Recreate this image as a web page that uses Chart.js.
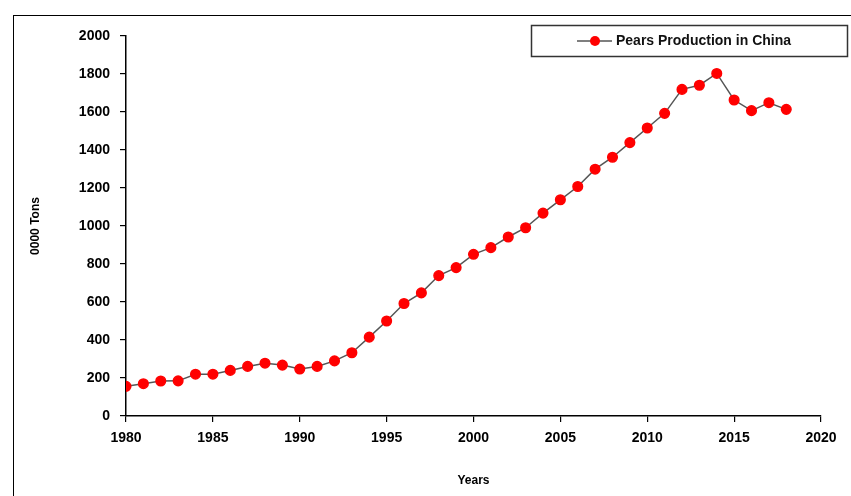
<!DOCTYPE html>
<html>
<head>
<meta charset="utf-8">
<script src="https://cdn.jsdelivr.net/npm/chart.js@4.4.1/dist/chart.umd.min.js"></script>
<style>
  body { margin: 0; background: #fff; }
  #wrap { position: relative; width: 851px; height: 496px; }
  #frame { position: absolute; left: 13px; top: 15px; right: 0; bottom: 0;
           border-left: 1.5px solid #000; border-top: 1.5px solid #000; pointer-events: none; }
</style>
</head>
<body>
<div id="wrap">
  <canvas id="chart" width="851" height="496"></canvas>
  <div id="frame"></div>
</div>
<script>
// data (0000 tons)
var years = [1980, 1981, 1982, 1983, 1984, 1985, 1986, 1987, 1988, 1989,
             1990, 1991, 1992, 1993, 1994, 1995, 1996, 1997, 1998, 1999,
             2000, 2001, 2002, 2003, 2004, 2005, 2006, 2007, 2008, 2009,
             2010, 2011, 2012, 2013, 2014, 2015, 2016, 2017, 2018];
var production = [156, 170, 184, 185, 220, 220, 240, 261, 278, 268,
                  247, 261, 290, 333, 415, 500, 592, 648, 739, 781,
                  851, 886, 942, 991, 1068, 1138, 1208, 1299, 1362, 1439,
                  1516, 1593, 1719, 1741, 1803, 1663, 1607, 1649, 1614];
var seriesName = 'Pears Production in China';
var xTicks = [1980, 1985, 1990, 1995, 2000, 2005, 2010, 2015, 2020];
var yTicks = [0, 200, 400, 600, 800, 1000, 1200, 1400, 1600, 1800, 2000];

var points = years.map(function (y, i) { return { x: y, y: production[i] }; });

// legend box drawn by hand: line + dot + bold label in a framed box
var boxLegend = {
  id: 'boxLegend',
  afterDraw: function (chart) {
    var ctx = chart.ctx;
    var ds = chart.data.datasets[0];
    ctx.save();
    ctx.strokeStyle = '#333';
    ctx.lineWidth = 1.5;
    ctx.strokeRect(531.5, 25.5, 316, 31);
    ctx.strokeStyle = ds.borderColor;
    ctx.lineWidth = 1.5;
    ctx.beginPath();
    ctx.moveTo(577, 41);
    ctx.lineTo(612, 41);
    ctx.stroke();
    ctx.fillStyle = ds.pointBackgroundColor;
    ctx.beginPath();
    ctx.arc(595, 41, 5, 0, Math.PI * 2);
    ctx.fill();
    ctx.fillStyle = '#111';
    ctx.font = 'bold 14px "Liberation Sans", Arial, sans-serif';
    ctx.textBaseline = 'middle';
    ctx.fillText(ds.label, 616, 41);
    ctx.restore();
  }
};

var tickFont = { family: '"Liberation Sans", Arial, sans-serif', size: 14, weight: 'bold' };
var titleFont = { family: '"Liberation Sans", Arial, sans-serif', size: 12, weight: 'bold' };

new Chart(document.getElementById('chart'), {
  type: 'line',
  data: {
    datasets: [{
      label: seriesName,
      data: points,
      borderColor: '#555',
      borderWidth: 1.5,
      pointBackgroundColor: '#ff0000',
      pointBorderColor: '#ff0000',
      pointRadius: 4.8,
      tension: 0
    }]
  },
  options: {
    responsive: false,
    animation: false,
    layout: { padding: { top: 36, right: 30, left: 0, bottom: 0 } },
    plugins: { legend: { display: false }, tooltip: { enabled: false } },
    scales: {
      x: {
        type: 'linear',
        min: 1980, max: 2020,
        afterBuildTicks: function (s) { s.ticks = xTicks.map(function (v) { return { value: v }; }); },
        afterFit: function (s) { s.height = 80; },
        ticks: { color: '#000', font: tickFont, padding: 8, maxRotation: 0,
                 callback: function (v) { return String(v); } },
        grid: { drawOnChartArea: false, tickLength: 6, color: '#000', lineWidth: 1.2 },
        border: { color: '#000', width: 1.5 },
        title: { display: true, text: 'Years', color: '#000', font: titleFont, padding: { top: 30, bottom: 8 } }
      },
      y: {
        min: 0, max: 2000,
        afterBuildTicks: function (s) { s.ticks = yTicks.map(function (v) { return { value: v }; }); },
        afterFit: function (s) { s.width = 126; },
        ticks: { color: '#000', font: tickFont, padding: 10,
                 callback: function (v) { return String(v); } },
        grid: { drawOnChartArea: false, tickLength: 6, color: '#000', lineWidth: 1.2 },
        border: { color: '#000', width: 1.5 },
        title: { display: true, text: '0000 Tons', color: '#000', font: titleFont, padding: { top: 28, bottom: 0 } }
      }
    }
  },
  plugins: [boxLegend]
});
</script>
</body>
</html>
